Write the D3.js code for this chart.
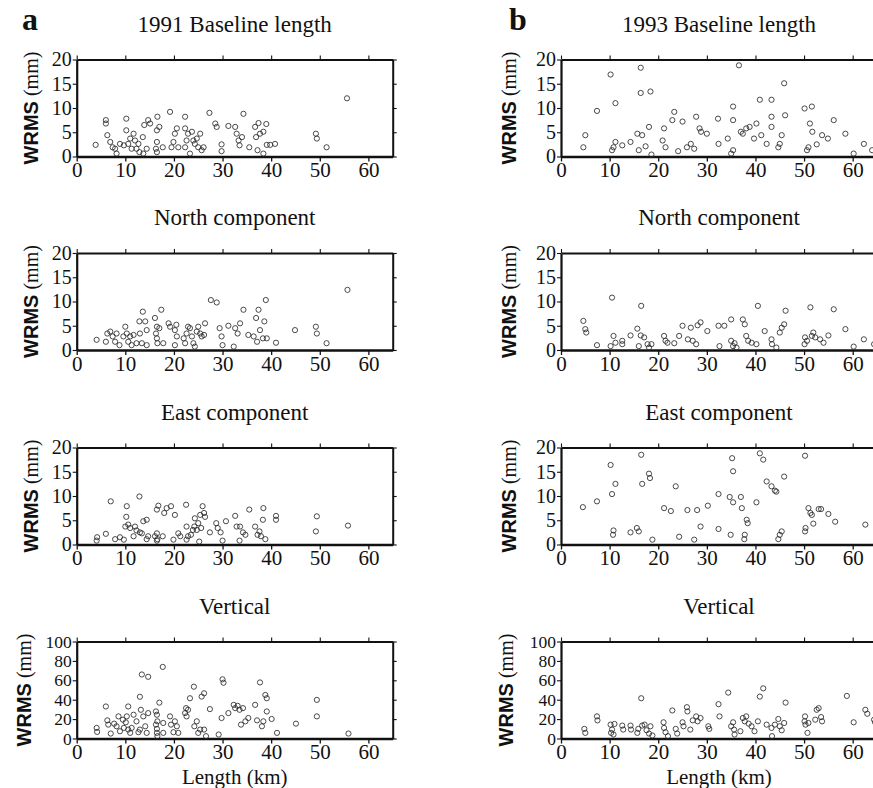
<!DOCTYPE html>
<html>
<head>
<meta charset="utf-8">
<script src="https://cdn.jsdelivr.net/npm/d3@7"></script>
<style>
  body { margin: 0; background: #fff; }
  .axis path, .axis line { stroke: #111; }
  .pt { fill: none; stroke: #2a2a2a; stroke-width: 0.85; }
</style>
</head>
<body>
<svg id="fig" width="873" height="788"></svg>
<script>
const SERIF = '"Liberation Serif", "Times New Roman", serif';
const SANS = '"Liberation Sans", Arial, sans-serif';

// tick values
const xTicks = [0, 10, 20, 30, 40, 50, 60];
const yTicksMm = [0, 5, 10, 15, 20];
const yTicksVert = [0, 20, 40, 60, 80, 100];

const leftTitles = ["1991 Baseline length", "North component", "East component", "Vertical"];
const rightTitles = ["1993 Baseline length", "North component", "East component", "Vertical"];

// [length km, WRMS mm]
const length1991 = [[3.9,2.4],[6.0,7.5],[6.0,6.8],[6.3,4.4],[6.9,3.0],[7.4,1.9],[7.9,1.6],[8.2,0.6],[8.9,2.6],[9.7,2.3],
  [10.2,7.8],[10.2,5.4],[10.6,2.6],[11.0,3.7],[11.3,1.6],[11.7,4.7],[12.0,3.3],[12.3,1.6],[12.7,2.6],[12.9,0.9],
  [13.6,4.0],[13.7,0.6],[13.9,6.5],[14.4,1.6],[14.7,7.5],[15.1,6.8],[16.3,1.6],[16.5,3.0],[16.5,5.4],[16.5,0.9],
  [16.6,8.2],[17.0,6.1],[17.7,1.9],[19.2,9.2],[19.5,1.9],[19.9,3.0],[20.2,4.7],[20.6,5.8],[20.9,1.9],[22.3,8.2],
  [22.3,5.8],[22.3,1.9],[22.6,3.3],[22.9,4.7],[23.3,0.6],[23.7,5.1],[24.0,3.3],[24.3,2.6],[24.7,3.7],[25.0,1.9],
  [25.4,4.7],[25.7,1.3],[26.1,1.9],[27.3,9.0],[28.5,6.8],[28.8,6.1],[29.8,2.5],[29.8,1.1],[31.2,6.3],[32.6,6.1],
  [32.9,4.7],[33.3,3.3],[33.5,2.3],[34.0,4.0],[34.3,8.8],[35.5,1.9],[36.7,6.1],[36.9,4.0],[37.2,1.3],[37.4,6.9],
  [37.7,4.7],[38.4,5.1],[38.4,0.6],[39.0,6.7],[39.1,2.4],[39.8,2.4],[40.8,2.6],[49.2,4.7],[49.4,3.7],[51.4,1.9],[55.6,12.0]];

const north1991 = [[4.1,2.1],[6.0,1.7],[6.3,3.4],[6.9,3.8],[7.4,2.8],[7.9,1.7],[8.2,3.4],[8.8,1.0],[9.6,2.8],[10.0,4.8],
  [10.3,3.4],[10.6,1.7],[11.0,2.8],[11.3,1.0],[11.7,3.1],[12.3,1.4],[12.9,5.9],[13.0,3.4],[13.4,1.4],[13.6,7.9],
  [14.1,5.9],[14.4,4.1],[14.4,1.0],[16.1,6.6],[16.3,3.4],[16.5,4.8],[16.5,2.4],[16.6,1.4],[17.0,4.5],[17.4,8.3],
  [17.8,1.4],[18.9,5.5],[19.2,4.8],[20.2,4.1],[20.5,5.2],[20.6,2.8],[20.2,1.0],[22.0,2.4],[22.3,1.4],[22.6,3.4],
  [22.9,4.8],[23.3,4.5],[23.7,2.8],[24.0,1.4],[24.3,0.7],[24.7,3.8],[25.0,4.8],[25.4,3.4],[25.7,2.8],[26.2,3.1],
  [26.4,5.5],[27.6,10.3],[28.8,9.8],[29.4,4.5],[29.8,2.8],[30.0,1.0],[31.2,5.0],[32.3,0.7],[32.6,4.5],[33.1,3.4],
  [33.6,5.5],[34.3,8.3],[35.3,3.1],[36.4,2.8],[36.9,6.6],[37.1,1.7],[37.4,8.3],[37.7,4.1],[38.3,2.4],[38.6,5.9],
  [38.9,10.3],[39.1,2.4],[41.0,1.5],[44.9,4.1],[49.2,4.8],[49.4,3.4],[51.4,1.4],[55.7,12.4]];

const east1991 = [[4.1,0.8],[4.2,1.5],[6.0,2.2],[7.0,8.9],[7.9,1.1],[8.9,1.5],[9.7,1.0],[10.0,3.7],[10.2,5.7],[10.3,7.9],
  [10.6,4.1],[11.0,3.4],[11.7,1.7],[12.0,3.7],[12.3,2.9],[12.9,9.9],[13.0,2.5],[13.4,2.3],[13.7,4.8],[14.4,5.1],
  [14.4,1.1],[14.7,1.7],[16.1,1.7],[16.5,0.8],[16.5,2.3],[16.6,1.1],[16.5,7.2],[16.8,8.0],[17.7,1.7],[18.0,6.5],
  [18.5,7.5],[19.4,7.9],[19.9,1.0],[20.2,6.1],[20.9,2.3],[21.3,1.7],[22.5,8.2],[22.6,1.0],[22.6,3.7],[22.9,1.7],
  [23.5,2.0],[23.9,3.0],[24.2,3.7],[24.3,5.4],[24.7,3.0],[25.0,4.4],[25.2,0.6],[25.4,6.1],[25.6,3.4],[25.9,7.9],
  [26.2,6.5],[26.4,5.7],[27.4,2.5],[28.7,4.4],[29.0,3.4],[29.6,2.5],[30.0,0.8],[30.7,4.8],[32.6,5.9],[32.9,3.7],
  [33.5,0.8],[33.6,3.7],[34.2,2.5],[34.7,2.0],[35.5,7.2],[36.7,3.7],[37.2,2.0],[37.6,2.7],[37.9,1.7],[38.3,5.1],
  [38.4,7.5],[38.8,1.1],[41.0,5.9],[41.0,5.1],[49.2,2.7],[49.4,5.8],[55.8,3.9]];

const vert1991 = [[4.1,10.9],[4.2,6.8],[6.0,33],[6.3,18.7],[6.5,14.3],[7.0,5.1],[7.7,15.3],[8.2,12.6],[8.6,22.8],[8.9,7.5],
  [9.5,19.4],[9.7,10.9],[10.1,16.7],[10.3,22.8],[10.6,33],[10.6,9.2],[11.0,5.8],[11.3,10.9],[11.7,24.5],[12.3,17.7],
  [12.7,6.5],[13.0,9.2],[13.0,43],[13.2,29.6],[13.4,66],[13.7,22.8],[14.1,12.6],[14.4,5.8],[14.7,63.6],[14.7,26.2],
  [16.3,27.9],[16.3,14.3],[16.5,9.9],[16.5,5.8],[16.6,2.4],[16.5,24.5],[16.6,17.7],[17.0,37],[17.7,73.8],[17.8,16],
  [17.8,5.8],[19.2,22.8],[19.4,14.3],[19.9,6.5],[20.2,17.7],[20.6,12.6],[20.9,5.8],[22.3,26.2],[22.5,31.3],[22.6,22.8],
  [22.9,29.6],[23.3,41.5],[24.1,53.4],[24.2,12.6],[24.7,17.7],[25.0,5.8],[25.4,9.2],[25.7,43.2],[26.2,46.6],[26.2,9.2],
  [26.6,2.4],[27.4,30.3],[29.2,4.1],[29.8,21.1],[30.0,61],[30.2,57.5],[31.2,26.2],[32.3,34.7],[32.6,31.3],[33.1,33.7],
  [33.5,29.6],[33.8,14.3],[34.2,31.3],[34.7,17.7],[35.3,21.1],[36.7,34.7],[37.1,18.7],[37.7,57.8],[38.1,12.6],[38.4,17.7],
  [38.8,44.9],[39.1,41.5],[39.1,27.9],[40.1,20.1],[41.2,5.8],[45.1,15.3],[49.4,39.8],[49.4,22.8],[55.9,5.1]];

const length1993 = [[4.6,1.9],[5.0,4.4],[7.4,9.4],[10.2,16.9],[10.5,1.3],[10.8,1.9],[11.2,11.0],[11.2,3.0],[12.6,2.3],[14.3,3.0],
  [15.7,4.7],[16.0,1.3],[16.4,18.3],[16.4,13.1],[16.7,4.4],[17.4,2.1],[18.1,6.1],[18.4,13.4],[18.6,0.4],[20.9,3.3],
  [21.2,5.8],[21.5,1.9],[22.9,7.5],[23.3,9.2],[24.1,1.1],[25.0,7.2],[25.9,1.9],[26.7,2.6],[27.4,1.6],[27.8,8.2],
  [28.5,5.8],[28.8,5.1],[30.0,4.7],[32.3,7.8],[32.4,2.6],[34.3,3.7],[35.0,0.6],[35.4,1.3],[35.4,10.3],[35.4,7.5],
  [36.6,18.8],[37.0,5.1],[37.4,4.7],[38.1,5.8],[38.8,6.1],[39.7,3.7],[40.2,6.8],[40.9,11.7],[41.2,4.4],[42.3,2.6],
  [43.3,11.7],[43.3,8.2],[43.3,6.1],[44.7,1.9],[45.0,2.6],[45.4,4.4],[45.9,15.1],[46.1,8.5],[50.1,9.9],[50.6,1.3],
  [50.9,1.9],[51.2,6.8],[51.6,10.3],[51.7,5.1],[52.6,2.5],[53.7,4.4],[54.9,3.7],[56.1,7.5],[58.5,4.7],[60.2,0.6],
  [62.3,2.6],[64.0,1.3]];

const north1993 = [[4.6,6.0],[5.0,4.3],[5.2,3.6],[7.4,1.0],[10.2,0.8],[10.5,10.8],[10.8,2.9],[11.2,1.5],[12.6,1.9],[12.6,1.2],
  [14.3,3.0],[15.7,4.4],[16.0,0.8],[16.4,3.0],[16.5,9.1],[17.1,2.6],[17.8,1.2],[18.1,0.5],[18.6,1.2],[21.2,2.9],
  [21.5,1.9],[21.9,1.5],[23.3,1.4],[24.3,2.9],[25.0,5.0],[26.1,2.2],[26.7,4.6],[27.1,1.9],[27.8,1.2],[28.1,5.1],
  [28.7,5.7],[30.1,3.9],[32.4,5.0],[32.6,0.8],[33.6,5.0],[35.0,6.3],[35.0,1.9],[35.4,0.8],[35.7,1.4],[36.1,0.5],
  [37.4,6.3],[37.8,5.3],[38.1,2.9],[38.5,1.9],[39.2,1.5],[40.2,1.2],[40.5,9.1],[41.9,3.9],[43.3,2.2],[43.4,1.2],
  [44.3,0.5],[45.0,3.6],[45.4,4.6],[45.9,5.3],[46.2,8.1],[50.1,1.2],[50.2,2.6],[50.6,1.9],[51.3,8.8],[51.6,2.9],
  [51.9,3.6],[52.3,2.6],[53.3,2.2],[54.0,1.5],[55.0,3.0],[56.1,8.4],[58.5,4.3],[60.2,0.7],[62.3,2.2],[64.4,1.2]];

const east1993 = [[4.5,7.7],[7.4,8.9],[10.2,16.4],[10.5,10.4],[10.7,2.0],[10.8,2.9],[11.2,12.5],[14.3,2.5],[15.6,3.4],[16.0,2.7],
  [16.5,18.5],[16.7,12.5],[18.1,14.6],[18.3,13.7],[18.8,1.0],[21.2,7.5],[22.6,6.9],[23.6,12.0],[24.3,1.6],[26.0,7.1],
  [27.4,1.0],[28.0,7.1],[28.7,3.7],[30.2,8.0],[32.4,10.4],[32.4,3.2],[34.7,9.8],[34.9,2.0],[35.2,17.8],[35.4,15.1],
  [35.4,8.7],[37.0,9.8],[37.2,7.5],[37.7,1.1],[37.8,2.0],[38.2,5.1],[38.4,4.4],[40.2,8.7],[40.9,18.8],[41.6,17.5],
  [42.3,13.0],[43.3,12.0],[44.0,11.1],[44.3,10.9],[44.7,1.1],[45.0,2.0],[45.4,2.7],[45.9,14.0],[50.2,18.3],[50.2,2.7],
  [50.3,3.4],[50.9,7.5],[51.3,6.5],[51.6,6.1],[51.9,4.3],[53.0,7.3],[53.5,7.3],[55.0,6.3],[56.4,4.7],[62.6,4.1]];

const vert1993 = [[4.8,9.9],[5.0,5.8],[7.4,22.8],[7.5,18.7],[10.2,14.3],[10.3,5.8],[10.5,9.2],[10.8,4.1],[11.0,15],[12.6,13.3],
  [12.8,9.2],[14.3,13.3],[14.4,9.2],[15.7,5.8],[15.9,9.9],[16.5,41.5],[16.7,13.3],[17.2,14.3],[17.6,8.5],[18.1,5.1],
  [18.4,12.6],[18.8,3.1],[21.1,16.7],[21.2,10.9],[21.5,6.5],[22.0,2.4],[22.9,28.9],[23.6,9.9],[23.9,5.1],[25.0,16.7],
  [25.2,12.6],[25.9,32.3],[26.0,27.9],[26.6,9.2],[27.1,18.7],[27.8,22.8],[28.1,17.7],[28.7,21.1],[30.3,12.6],[30.5,9.9],
  [32.4,35.4],[32.6,22.8],[34.4,47.3],[35.0,12.6],[35.4,16.7],[35.6,9.2],[35.7,4.1],[36.9,7.5],[37.4,21.1],[37.8,17.7],
  [38.1,22.8],[38.6,15.3],[39.2,12.6],[39.8,7.5],[40.5,17.7],[40.9,43.2],[41.6,51.7],[42.3,14.3],[43.3,10.9],[43.4,2.4],
  [44.0,14.3],[44.7,20.1],[45.0,12.6],[45.4,8.5],[45.9,16],[46.2,37],[50.1,17.7],[50.2,22.8],[50.3,14.3],[50.7,5.8],
  [50.9,16],[52.3,19.4],[52.6,29.6],[53.0,31.3],[53.5,22.1],[53.7,17.7],[58.8,43.9],[60.2,16.7],[62.6,29.6],[63.0,25.5],
  [64.4,19.4],[64.6,16.7]];

const leftData = [length1991, north1991, east1991, vert1991];
const rightData = [length1993, north1993, east1993, vert1993];

class Panel {
    constructor(opts) {
        this.svg = opts.svg;
        this.left = opts.left;
        this.top = opts.top;
        this.width = 316;
        this.height = 97;
        this.data = opts.data;
        this.title = opts.title;
        this.yMax = opts.yMax;
        this.yTicks = opts.yTicks;
        this.yTickSize = opts.yTickSize;
        this.labelOffset = opts.labelOffset;
        this.showXLabel = opts.showXLabel;
        this.draw();
    }

    draw() {
        this.plot = this.svg.append('g')
            .attr('transform', `translate(${this.left},${this.top})`);
        this.createScales();
        this.addAxes();
        this.addPoints();
        this.addLabels();
    }

    createScales() {
        this.xScale = d3.scaleLinear().domain([0, 65]).range([0, this.width]);
        this.yScale = d3.scaleLinear().domain([0, this.yMax]).range([this.height, 0]);
    }

    addAxes() {
        const h = this.height, w = this.width;

        // bottom, with labels
        const bottom = this.plot.append('g')
            .attr('class', 'axis')
            .attr('transform', `translate(0,${h})`)
            .call(d3.axisBottom(this.xScale).tickValues(xTicks).tickSize(5).tickSizeOuter(0).tickPadding(1));
        bottom.attr('font-family', null).attr('font-size', null);
        bottom.select('.domain').attr('stroke-width', 2.6);
        bottom.selectAll('line').attr('stroke-width', 1.3);
        bottom.selectAll('text')
            .style('font-family', SERIF).style('font-size', '21px').attr('fill', '#111');

        // top, ticks only
        const top = this.plot.append('g')
            .attr('class', 'axis')
            .call(d3.axisTop(this.xScale).tickValues(xTicks).tickSize(4).tickSizeOuter(0).tickFormat(''));
        top.select('.domain').attr('stroke-width', 2.2);
        top.selectAll('line').attr('stroke-width', 1.1);

        // left, with labels
        const left = this.plot.append('g')
            .attr('class', 'axis')
            .call(d3.axisLeft(this.yScale).tickValues(this.yTicks).tickSize(4).tickSizeOuter(0).tickPadding(1));
        left.attr('font-family', null).attr('font-size', null);
        left.select('.domain').attr('stroke-width', 2.2);
        left.selectAll('line').attr('stroke-width', 1.1);
        left.selectAll('text')
            .style('font-family', SERIF).style('font-size', this.yTickSize + 'px').attr('fill', '#111');

        // right, ticks only
        const right = this.plot.append('g')
            .attr('class', 'axis')
            .attr('transform', `translate(${w},0)`)
            .call(d3.axisRight(this.yScale).tickValues(this.yTicks).tickSize(4).tickSizeOuter(0).tickFormat(''));
        right.select('.domain').attr('stroke-width', 2);
        right.selectAll('line').attr('stroke-width', 1.1);
    }

    addPoints() {
        this.plot.selectAll('circle.pt')
            .data(this.data)
            .enter()
            .append('circle')
            .attr('class', 'pt')
            .attr('cx', d => this.xScale(d[0]))
            .attr('cy', d => this.yScale(d[1]))
            .attr('r', 2.6);
    }

    addLabels() {
        const w = this.width, h = this.height;

        this.plot.append('text')
            .attr('x', w / 2)
            .attr('y', -28)
            .attr('text-anchor', 'middle')
            .style('font-family', SERIF)
            .style('font-size', '23px')
            .attr('fill', '#111')
            .text(this.title);

        const yl = this.plot.append('text')
            .attr('transform', `translate(${-this.labelOffset},${h / 2}) rotate(-90)`)
            .attr('text-anchor', 'middle')
            .attr('dominant-baseline', 'central')
            .style('font-family', SERIF)
            .style('font-size', '20px')
            .attr('fill', '#111');
        yl.append('tspan')
            .style('font-family', SANS)
            .style('font-weight', 'bold')
            .text('WRMS');
        yl.append('tspan')
            .style('font-family', SERIF)
            .text(' (mm)');

        if (this.showXLabel) {
            this.plot.append('text')
                .attr('x', w / 2)
                .attr('y', h + 45)
                .attr('text-anchor', 'middle')
                .style('font-family', SERIF)
                .style('font-size', '21px')
                .attr('fill', '#111')
                .text('Length (km)');
        }
    }
}

const svg = d3.select('#fig');
const rowTops = [59.5, 253, 447.5, 641.5];

rowTops.forEach((top, i) => {
    const vertical = i === 3;
    new Panel({
        svg: svg, left: 76.7, top: top, data: leftData[i], title: leftTitles[i],
        yMax: vertical ? 100 : 20, yTicks: vertical ? yTicksVert : yTicksMm,
        yTickSize: vertical ? 17.5 : 20,
        labelOffset: vertical ? 53 : 46, showXLabel: vertical
    });
    new Panel({
        svg: svg, left: 561, top: top, data: rightData[i], title: rightTitles[i],
        yMax: vertical ? 100 : 20, yTicks: vertical ? yTicksVert : yTicksMm,
        yTickSize: vertical ? 17.5 : 20,
        labelOffset: vertical ? 55 : 52, showXLabel: vertical
    });
});

// panel letters
svg.append('text').attr('x', 22).attr('y', 30)
    .style('font-family', SERIF).style('font-size', '32px').style('font-weight', 'bold')
    .attr('fill', '#111').text('a');
svg.append('text').attr('x', 509).attr('y', 30)
    .style('font-family', SERIF).style('font-size', '32px').style('font-weight', 'bold')
    .attr('fill', '#111').text('b');
</script>
</body>
</html>
